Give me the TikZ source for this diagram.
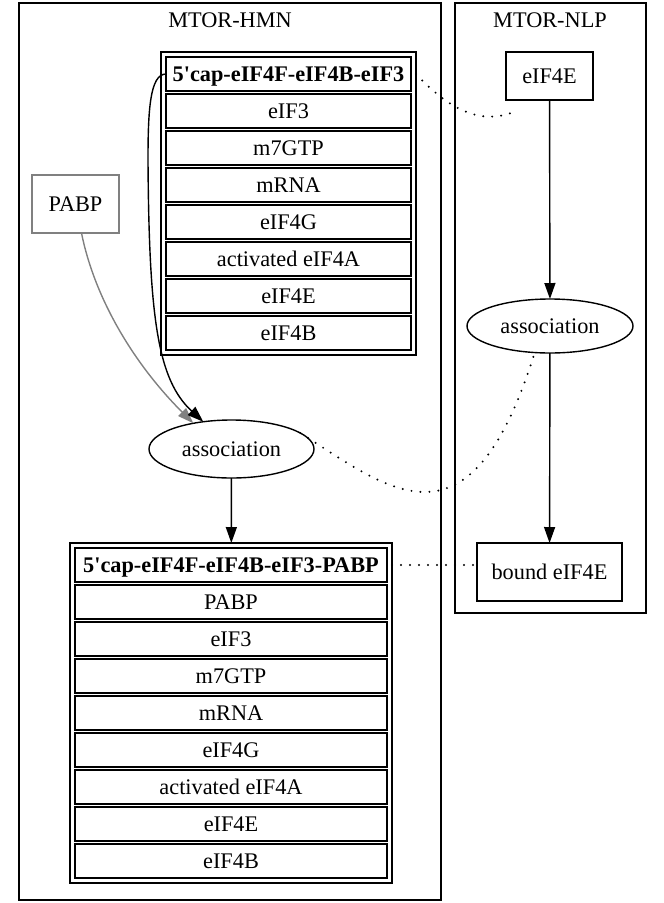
\documentclass[tikz,border=0pt]{standalone}
\usepackage{fontspec}
\setmainfont{Liberation Serif}[Ligatures=TeXOff]
\usetikzlibrary{positioning,fit,shapes.geometric,arrows.meta}
\tikzset{
  cell/.style={draw,line width=1.4pt,minimum height=34pt,inner sep=0pt,outer sep=0pt,text height=15pt,text depth=0pt},
  table/.style={draw,line width=1.4pt,inner sep=5pt,outer sep=0pt},
  cluster/.style={draw,line width=1.4pt,inner sep=0pt,outer sep=0pt},
  box/.style={draw,line width=1.4pt,inner sep=0pt,outer sep=0pt,text height=15pt,text depth=0pt},
  react/.style={ellipse,draw,line width=1.4pt,inner sep=0pt,outer sep=0pt,text height=15pt,text depth=0pt},
  link/.style={line width=2.2pt,line cap=round,dash pattern=on 0pt off 9pt},
  flow/.style={->,line width=1.4pt}
}
\begin{document}
\begin{tikzpicture}[x=1pt,y=-1pt,node distance=3pt,font=\fontsize{22.3}{27}\selectfont,>={Triangle[length=16pt,width=11pt]}]
  \useasboundingbox (0,0) rectangle (664,903);
  % clusters
  \node[cluster,minimum width=422pt,minimum height=897pt] (hmn) at (230,451.5) {};
  \node[text height=15pt,text depth=0pt] (hmnlabel) at (230,20) {MTOR-HMN};
  \node[cluster,minimum width=191pt,minimum height=610pt] (nlp) at (550.5,308) {};
  \node[text height=15pt,text depth=0pt] (nlplabel) at (550,20) {MTOR-NLP};
  % first complex
  \node[cell,minimum width=245pt] (capA) at (288.5,74) {\textbf{5'cap-eIF4F-eIF4B-eIF3}};
  \node[cell,minimum width=245pt,below=of capA] (capAeifiii) {eIF3};
  \node[cell,minimum width=245pt,below=of capAeifiii] (capAgtp) {m7GTP};
  \node[cell,minimum width=245pt,below=of capAgtp] (capAmrna) {mRNA};
  \node[cell,minimum width=245pt,below=of capAmrna] (capAeifg) {eIF4G};
  \node[cell,minimum width=245pt,below=of capAeifg] (capAeifa) {activated eIF4A};
  \node[cell,minimum width=245pt,below=of capAeifa] (capAeife) {eIF4E};
  \node[cell,minimum width=245pt,below=of capAeife] (capAeifb) {eIF4B};
  \node[table,fit=(capA) (capAeifb)] (tabA) {};
  % second complex
  \node[cell,minimum width=312pt] (capB) at (231,565) {\textbf{5'cap-eIF4F-eIF4B-eIF3-PABP}};
  \node[cell,minimum width=312pt,below=of capB] (capBpabp) {PABP};
  \node[cell,minimum width=312pt,below=of capBpabp] (capBeifiii) {eIF3};
  \node[cell,minimum width=312pt,below=of capBeifiii] (capBgtp) {m7GTP};
  \node[cell,minimum width=312pt,below=of capBgtp] (capBmrna) {mRNA};
  \node[cell,minimum width=312pt,below=of capBmrna] (capBeifg) {eIF4G};
  \node[cell,minimum width=312pt,below=of capBeifg] (capBeifa) {activated eIF4A};
  \node[cell,minimum width=312pt,below=of capBeifa] (capBeife) {eIF4E};
  \node[cell,minimum width=312pt,below=of capBeife] (capBeifb) {eIF4B};
  \node[table,fit=(capB) (capBeifb)] (tabB) {};
  % other nodes
  \node[box,draw=gray,minimum width=87pt,minimum height=58pt] (pabp) at (75.5,204) {PABP};
  \node[react,minimum width=165pt,minimum height=58pt] (assocA) at (231.5,449) {association};
  \node[box,minimum width=87pt,minimum height=48pt] (eif) at (549.5,76) {eIF4E};
  \node[react,minimum width=166pt,minimum height=54pt] (assocB) at (550,326) {association};
  \node[box,minimum width=145pt,minimum height=58pt] (bound) at (549.5,572) {bound eIF4E};
  % edges
  \draw[flow] (eif) -- (assocB);
  \draw[flow] (assocB) -- (bound);
  \draw[flow] (assocA) -- (tabB);
  \draw[flow,gray] ([xshift=6pt]pabp.south) .. controls (95,300) and (135,365) .. (assocA.146);
  \draw[flow] (capA.west) .. controls (150,74) and (148,110) .. (148,160) .. controls (149,320) and (158,380) .. (assocA.136);
  \draw[link] (tabA.east |- capA.east) .. controls (450,110) and (480,125) .. ([shift={(8,12)}]eif.south west);
  \draw[link] (assocA.13) .. controls (390,490) and (470,560) .. (assocB.240);
  \draw[link] (tabB.east |- capB.east) -- (bound.west |- capB.east);
\end{tikzpicture}
\end{document}
